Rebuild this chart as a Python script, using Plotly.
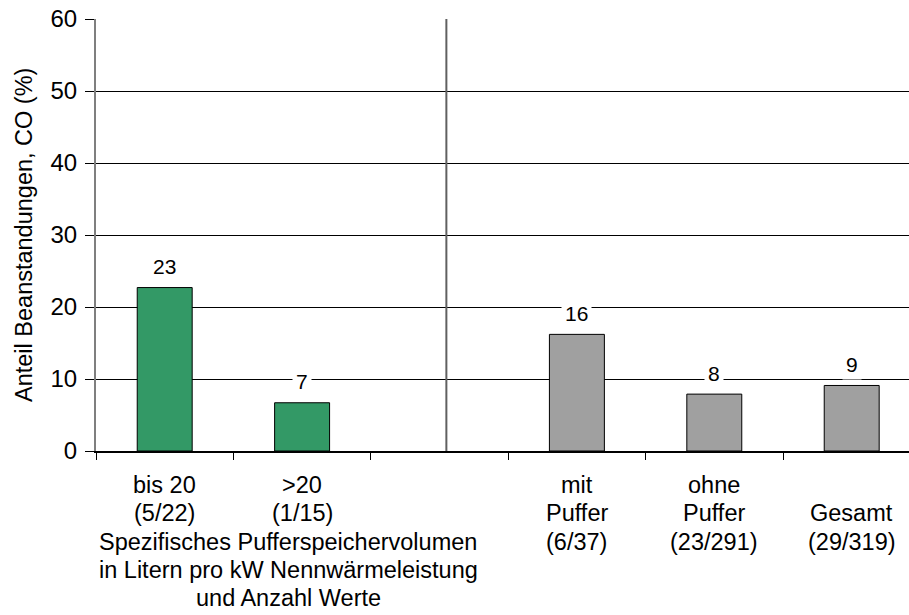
import plotly.graph_objects as go

# Anteil Beanstandungen CO (%) je Kategorie
kategorien_puffervolumen = ["bis 20", ">20"]
anteil_puffervolumen = [22.7, 6.7]
werte_puffervolumen = ["(5/22)", "(1/15)"]

kategorien_puffer = ["mit\nPuffer", "ohne\nPuffer", "\nGesamt"]
anteil_puffer = [16.2, 7.9, 9.1]
werte_puffer = ["(6/37)", "(23/291)", "(29/319)"]

achsentitel_x = ["Spezifisches Pufferspeichervolumen",
                 "in Litern pro kW Nennwärmeleistung",
                 "und Anzahl Werte"]
y_ticks = [0, 10, 20, 30, 40, 50, 60]

FONT = "Liberation Sans, Arial, sans-serif"
GREEN = "#339966"
GRAY = "#a0a0a0"

pos_left = [0, 1]
pos_right = [3, 4, 5]

fig = go.Figure()
fig.add_trace(go.Bar(x=pos_left, y=anteil_puffervolumen, width=0.4,
                     marker=dict(color=GREEN, line=dict(color="black", width=1)),
                     showlegend=False))
fig.add_trace(go.Bar(x=pos_right, y=anteil_puffer, width=0.4,
                     marker=dict(color=GRAY, line=dict(color="black", width=1)),
                     showlegend=False))

annotations = []

# value labels above the bars (white box hides the gridline behind)
for xs, ys in ((pos_left, anteil_puffervolumen), (pos_right, anteil_puffer)):
    for x, y in zip(xs, ys):
        annotations.append(dict(x=x, y=y, xref="x", yref="y", text=f"{round(y)}",
                                showarrow=False, yanchor="middle", yshift=21,
                                bgcolor="white", borderpad=3,
                                font=dict(family=FONT, size=21, color="black")))

LINE = 28.3
FIRST = 34  # px below the x axis for the first label line
LABEL_SIZE = 23.5


def add_lines(x, lines, xref="x", start=0):
    for i, line in enumerate(lines):
        if not line:
            continue
        annotations.append(dict(x=x, y=0, xref=xref, yref="paper", text=line,
                                showarrow=False, xanchor="center", yanchor="middle",
                                yshift=-(FIRST + (start + i) * LINE),
                                font=dict(family=FONT, size=LABEL_SIZE, color="black")))


for x, name, n in zip(pos_left, kategorien_puffervolumen, werte_puffervolumen):
    add_lines(x, name.split("\n") + [n])
for x, name, n in zip(pos_right, kategorien_puffer, werte_puffer):
    add_lines(x, name.split("\n") + [n])

# axis title beneath the left group
add_lines(0.9, achsentitel_x, start=2)

# y axis title
annotations.append(dict(x=0, y=0.5, xref="paper", yref="paper",
                        text="Anteil Beanstandungen, CO (%)", textangle=-90,
                        showarrow=False, xanchor="center", yanchor="middle", xshift=-72,
                        font=dict(family=FONT, size=LABEL_SIZE, color="black")))

fig.update_layout(
    width=909, height=615,
    margin=dict(l=96, r=0, t=19, b=164),
    paper_bgcolor="white", plot_bgcolor="white",
    annotations=annotations,
    shapes=[dict(type="line", xref="x", yref="y", x0=2.05, x1=2.05, y0=0, y1=60,
                 line=dict(color="#606060", width=2))],
    xaxis=dict(range=[-0.5, 5.417], tickvals=[-0.5, 0.5, 1.5, 2.5, 3.5, 4.5],
               showticklabels=False, ticks="outside", ticklen=7, tickcolor="black",
               tickwidth=1, showline=True, linecolor="black", linewidth=1.5,
               showgrid=False, zeroline=False, fixedrange=True),
    yaxis=dict(range=[0, 60], tickvals=y_ticks, ticks="outside", ticklen=9,
               tickcolor="black", tickwidth=1, showline=True, linecolor="#7f7f7f",
               linewidth=2, showgrid=True, gridcolor="black", gridwidth=1,
               zeroline=False, ticklabelstandoff=3,
               tickfont=dict(family=FONT, size=24, color="black")),
)

fig.write_html("out.html")
